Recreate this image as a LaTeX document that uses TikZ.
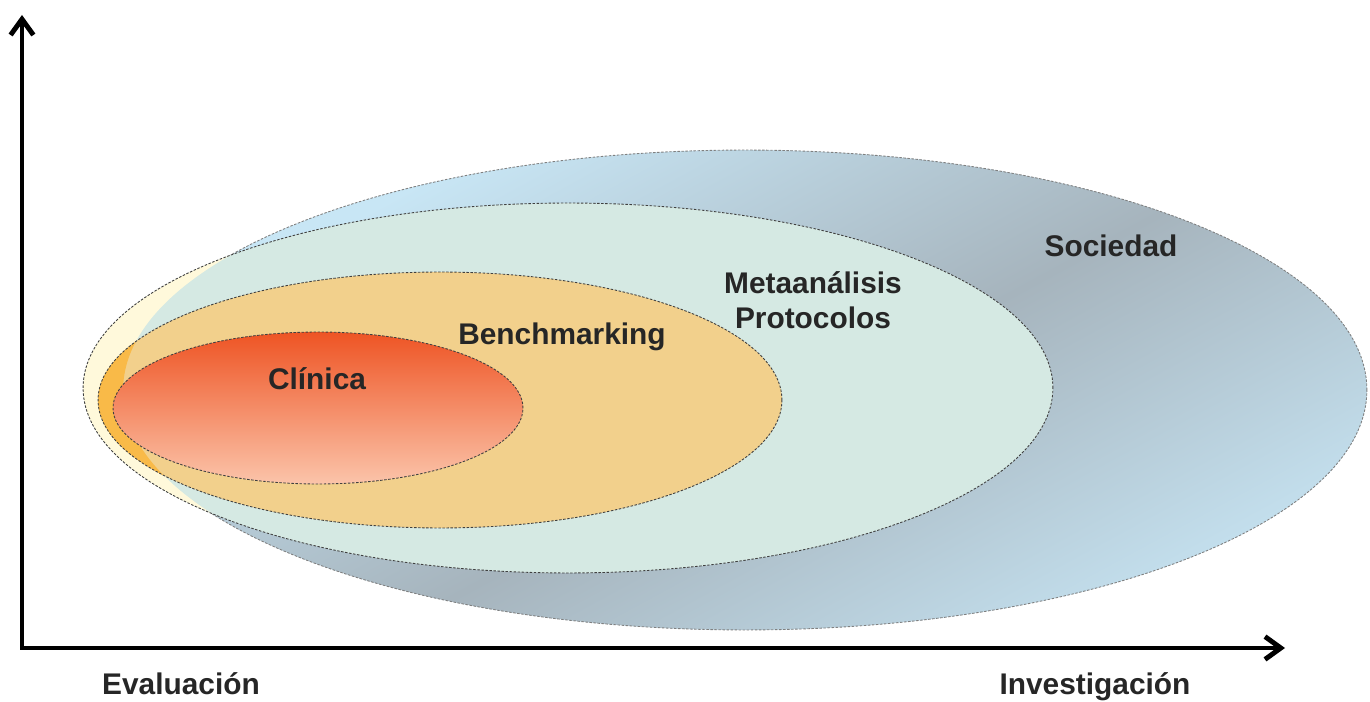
\documentclass[tikz,border=0pt]{standalone}
\usepackage{fontspec}
\setmainfont{Liberation Sans}
\usetikzlibrary{arrows.meta}
\definecolor{socgray}{RGB}{166,180,189}
\definecolor{socblue}{RGB}{200,230,245}
\definecolor{metateal}{RGB}{213,233,227}
\definecolor{metacream}{RGB}{255,249,219}
\definecolor{benchtan}{RGB}{242,208,140}
\definecolor{benchorange}{RGB}{249,186,72}
\definecolor{clintop}{RGB}{238,84,36}
\definecolor{clinbottom}{RGB}{251,196,170}

\begin{document}
\begin{tikzpicture}[x=0.02cm,y=-0.02cm,
    rim/.style={draw=black!75, line width=0.5pt, dash pattern=on 1.4pt off 0.9pt},
    axis/.style={line width=2.8pt, {Straight Barb[length=9pt,width=13pt]}-{Straight Barb[length=9pt,width=13pt]}},
    lbl/.style={font=\fontsize{17}{19.8}\selectfont\bfseries, text=black!85, anchor=base}]
  \clip (0,0) rectangle (1370,702);

  % Sociedad
  \fill[socblue] (745,390) ellipse [x radius=12.44cm, y radius=4.8cm];
  \begin{scope}
    \clip (745,390) ellipse [x radius=12.44cm, y radius=4.8cm];
    \shade[left color=socblue, right color=socblue, middle color=socgray,
      transform canvas={rotate around={-61.5:(765,428)}}] (385,-400) rectangle (1145,1256);
  \end{scope}
  \draw[rim, draw=black!50] (745,390) ellipse [x radius=12.44cm, y radius=4.8cm];

  % Metaanalisis
  \fill[metateal] (568,388) ellipse [x radius=9.7cm, y radius=3.7cm];
  \begin{scope}
    \clip (568,388) ellipse [x radius=9.7cm, y radius=3.7cm];
    \fill[metacream, even odd rule] (0,0) rectangle (1370,702)
      (745,390) ellipse [x radius=12.44cm, y radius=4.8cm];
  \end{scope}
  \draw[rim] (568,388) ellipse [x radius=9.7cm, y radius=3.7cm];

  % Benchmarking
  \fill[benchtan] (440,400) ellipse [x radius=6.84cm, y radius=2.56cm];
  \begin{scope}
    \clip (440,400) ellipse [x radius=6.84cm, y radius=2.56cm];
    \fill[benchorange, even odd rule] (0,0) rectangle (1370,702)
      (745,390) ellipse [x radius=12.44cm, y radius=4.8cm];
  \end{scope}
  \draw[rim] (440,400) ellipse [x radius=6.84cm, y radius=2.56cm];

  % Clinica
  \shade[rim, top color=clintop, bottom color=clinbottom]
    (318,408) ellipse [x radius=4.1cm, y radius=1.52cm];

  \node[lbl] (soclbl) at (1111,257) {Sociedad};
  \node[lbl, align=center, anchor=center] (metalbl) at (813,300) {Metaanálisis\\Protocolos};
  \node[lbl] (benchlbl) at (562,345) {Benchmarking};
  \node[lbl] (clinlbl) at (317,390) {Clínica};

  % axes
  \coordinate (origin) at (22,648);
  \coordinate (ytip) at (22,15);
  \coordinate (xtip) at (1285,648);
  \draw[axis] (ytip) -- (origin) -- (xtip);
  \node[lbl] (evallbl) at (181,694) {Evaluación};
  \node[lbl] (invlbl) at (1095,694) {Investigación};
\end{tikzpicture}
\end{document}
